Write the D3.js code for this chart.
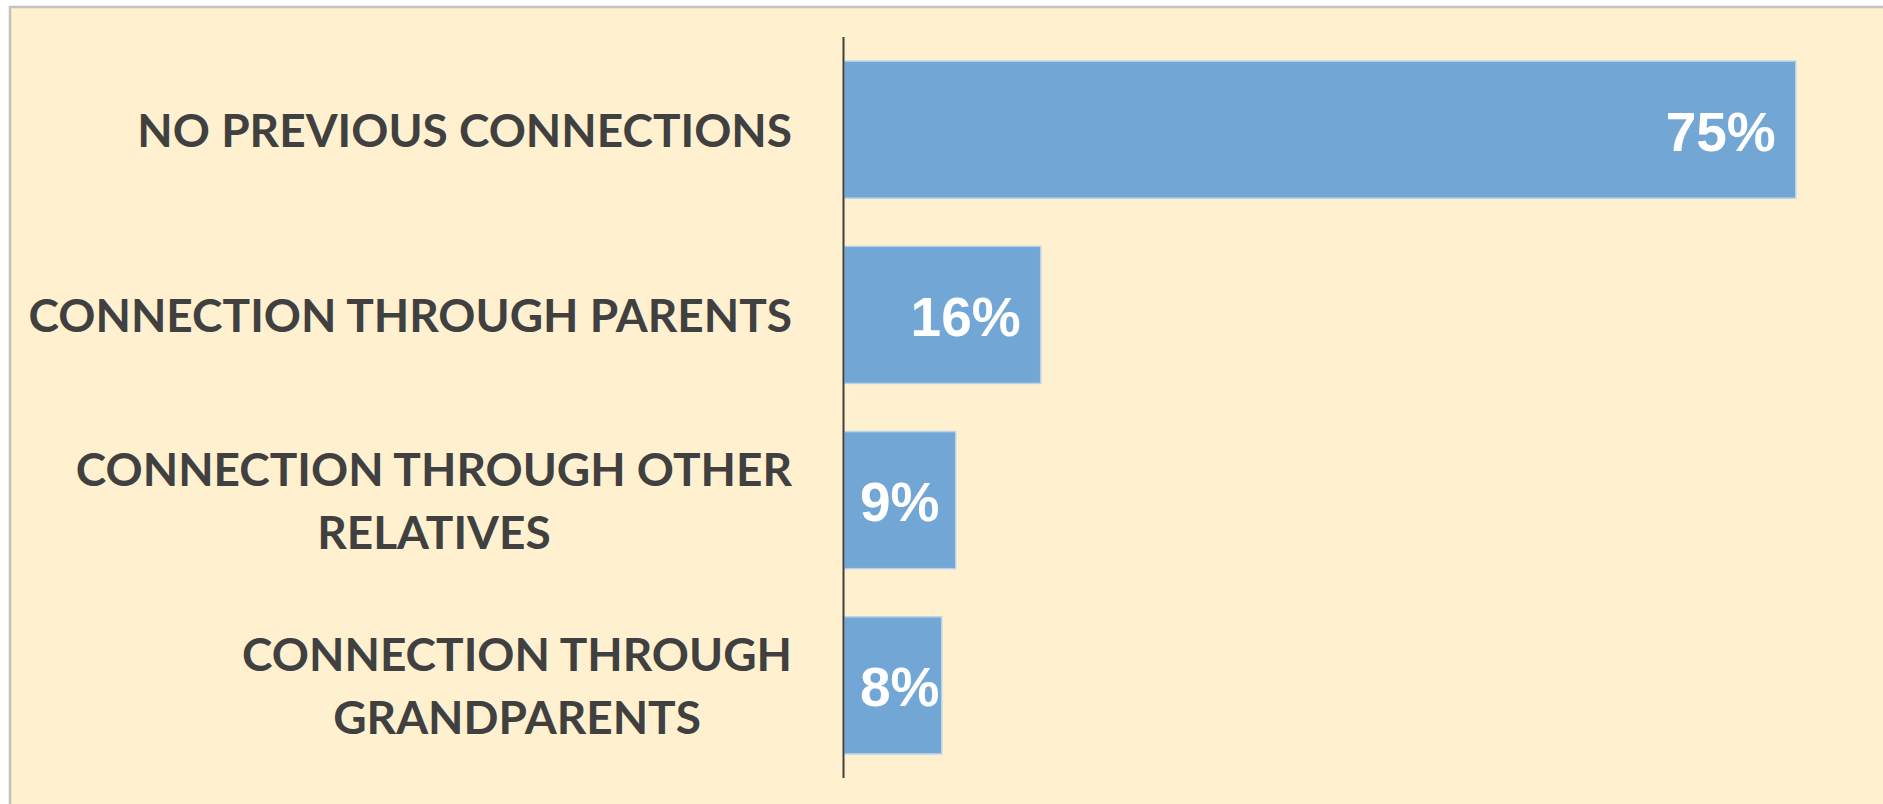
<!DOCTYPE html>
<html>
<head>
<meta charset="utf-8">
<style>
  body { margin: 0; background: #fff; }
  svg { display: block; }
</style>
</head>
<body>
<svg width="1883" height="804"></svg>
<script src="https://d3js.org/d3.v7.min.js"></script>
<script>

// data
var categories = [
  ["NO PREVIOUS CONNECTIONS"],
  ["CONNECTION THROUGH PARENTS"],
  ["CONNECTION THROUGH OTHER", "RELATIVES"],
  ["CONNECTION THROUGH", "GRANDPARENTS"]
];
var values = [75, 15.5, 8.8, 7.7];
var valueLabels = ["75%", "16%", "9%", "8%"];

var svg = d3.select("svg"),
    width = +svg.attr("width"),
    height = +svg.attr("height");

var axisX = 844,
    labelRight = 792;

// cream panel with grey frame
svg.append("rect")
    .attr("x", 10)
    .attr("y", 7)
    .attr("width", width + 20)
    .attr("height", height + 20)
    .attr("fill", "#fff1cf")
    .attr("stroke", "#c2c2c2")
    .attr("stroke-width", 2.5);

var x = d3.scaleLinear()
    .domain([0, 80])
    .range([axisX, axisX + 80 * 12.69]);

var y = d3.scaleBand()
    .domain(d3.range(categories.length))
    .range([37, 778])
    .paddingInner(0.26)
    .paddingOuter(0.13);

var bars = svg.append("g");

bars.selectAll("rect")
  .data(values)
  .enter().append("rect")
    .attr("x", x(0))
    .attr("y", function(d, i) { return y(i); })
    .attr("width", function(d) { return x(d) - x(0); })
    .attr("height", y.bandwidth())
    .attr("fill", "#72a6d4")
    .attr("stroke", "#b9d3ec")
    .attr("stroke-width", 1.5);

// value labels, inside end of bar, kept inside the bar start
bars.selectAll("text")
  .data(values)
  .enter().append("text")
    .attr("y", function(d, i) { return y(i) + y.bandwidth() / 2 + 21; })
    .attr("fill", "#fff")
    .attr("font-family", "'Liberation Sans', Arial, sans-serif")
    .attr("font-weight", "bold")
    .attr("font-size", 55)
    .text(function(d, i) { return valueLabels[i]; })
    .each(function(d) {
      var t = d3.select(this),
          w = this.getComputedTextLength(),
          left = x(d) - 20 - w;
      if (left < axisX + 16) left = axisX + 16;
      t.attr("x", left);
    });

// category labels, lines centred on each other, block right-aligned
var labels = svg.append("g")
    .attr("font-family", "Lato, 'Open Sans', sans-serif")
    .attr("font-weight", "bold")
    .attr("font-size", 46)
    .attr("fill", "#404040")
    .attr("text-anchor", "middle");

var lineGap = 63;

categories.forEach(function(lines, i) {
  var cy = y(i) + y.bandwidth() / 2,
      first = cy - (lines.length - 1) * lineGap / 2 + 17;
  var t = labels.append("text");
  lines.forEach(function(s, j) {
    t.append("tspan")
      .attr("y", first + j * lineGap)
      .text(s);
  });
  var wmax = d3.max(t.selectAll("tspan").nodes(), function(n) { return n.getComputedTextLength(); });
  t.selectAll("tspan").attr("x", labelRight - wmax / 2);
});

// vertical axis line
svg.append("line")
    .attr("x1", axisX - 0.5)
    .attr("x2", axisX - 0.5)
    .attr("y1", 37)
    .attr("y2", 778)
    .attr("stroke", "#404040")
    .attr("stroke-width", 2);

</script>
</body>
</html>
